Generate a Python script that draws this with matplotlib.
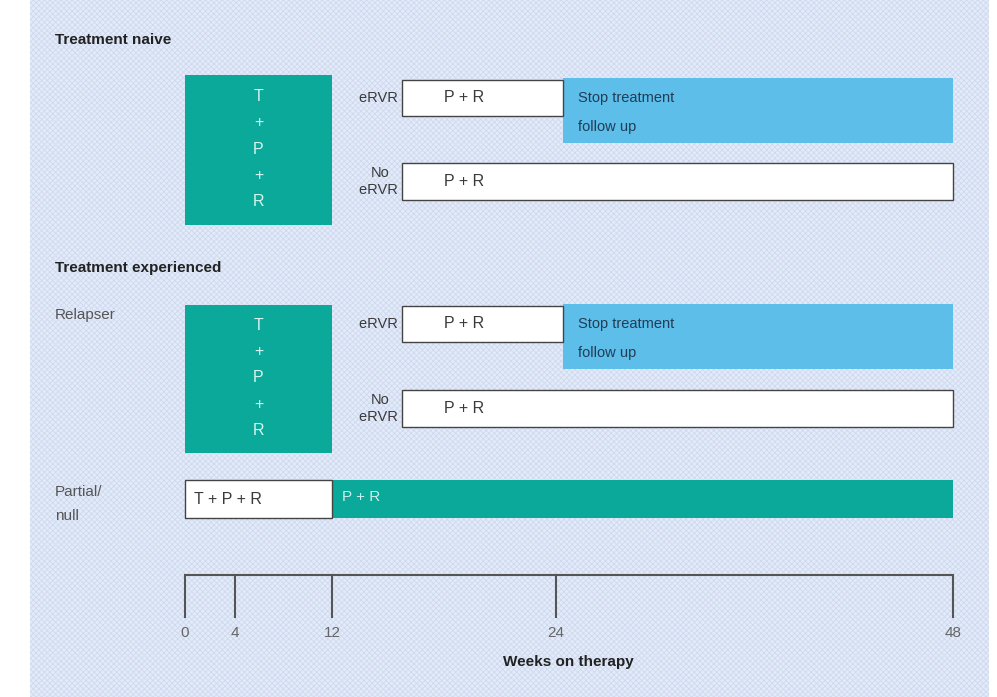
import matplotlib.pyplot as plt
import numpy as np
from matplotlib.patches import Rectangle

plt.rcParams['font.family'] = ['Liberation Sans', 'DejaVu Sans']
plt.rcParams['hatch.linewidth'] = 0.6

# week ticks on the schematic axis
week_ticks = [0, 4, 12, 24, 48]
tick_px = [185, 235, 332, 556, 953]   # where each tick sits on the (non-linear) schematic

# phases, in weeks
induction = (0, 12)          # T + P + R
ervr_pr = (15.75, 24.4)      # P + R after eRVR
ervr_stop = (24.4, 48)       # stop treatment / follow up
no_ervr_pr = (15.75, 48)     # P + R, no eRVR
partial_tpr = (0, 12)
partial_pr = (12, 48)

TEAL = '#0aa99a'
BLUE = '#5cbee9'
BG = '#e0edf8'
INK = '#3a3a3a'


def make_scale():
    kw = [-100] + week_ticks + [100]
    kp = [tick_px[0] - 100 * 12.5] + tick_px + [tick_px[-1] + 52 * 16.5]
    fwd = lambda w: np.interp(w, kw, kp)
    inv = lambda p: np.interp(p, kp, kw)
    return fwd, inv


fig = plt.figure(figsize=(9.97, 6.97), dpi=100)
ax = fig.add_axes([0, 0, 1, 1])
fwd, inv = make_scale()
ax.set_xscale('function', functions=(fwd, inv))
ax.set_xlim(inv(0), inv(997))
ax.set_ylim(697, 0)
ax.axis('off')

# textured panel
ax.add_patch(Rectangle((30 / 997, 0), 959 / 997, 1, transform=ax.transAxes,
                       facecolor=BG, edgecolor='#d3d6f0', hatch='xxxxxx', linewidth=0, zorder=0))


def span(lo_hi, y, h, color, edge='none'):
    lo, hi = lo_hi
    ax.barh(y, hi - lo, left=lo, height=h, color=color, edgecolor=edge,
            linewidth=1 if edge != 'none' else 0, zorder=2)


def block(y_top, y_bot, ervr_y, noervr_y):
    # induction block
    span(induction, (y_top + y_bot) / 2, y_bot - y_top, TEAL)
    xc = inv((fwd(induction[0]) + fwd(induction[1])) / 2)
    ax.text(xc, (y_top + y_bot) / 2 - 1, 'T\n+\nP\n+\nR', color='#d8f5ee', fontsize=11.5,
            ha='center', va='center', linespacing=1.95, zorder=3)
    # eRVR row
    span(ervr_stop, ervr_y + 12, 65, BLUE)
    span(ervr_pr, ervr_y, 36, 'white', edge='#444444')
    ax.text(ervr_pr[0], ervr_y, 'eRVR ', ha='right', va='center', fontsize=10.5, color=INK)
    ax.text(inv(fwd(ervr_pr[0]) + 42), ervr_y, 'P + R', va='center', fontsize=11.5, color=INK, zorder=3)
    ax.text(inv(fwd(ervr_stop[0]) + 15), ervr_y, 'Stop treatment', va='center', fontsize=10.5,
            color='#233c55', zorder=3)
    ax.text(inv(fwd(ervr_stop[0]) + 15), ervr_y + 29, 'follow up', va='center', fontsize=10.5,
            color='#233c55', zorder=3)
    # no eRVR row
    span(no_ervr_pr, noervr_y, 37, 'white', edge='#444444')
    ax.text(ervr_pr[0], noervr_y, 'No\neRVR ', ha='right', va='center', fontsize=10.5,
            color=INK, multialignment='center', linespacing=1.35)
    ax.text(inv(fwd(no_ervr_pr[0]) + 42), noervr_y, 'P + R', va='center', fontsize=11.5, color=INK, zorder=3)


xl = inv(55)
ax.text(xl, 40, 'Treatment naive', fontsize=11, fontweight='bold', color='#222222', va='center')
block(75, 225, 98, 181.5)

ax.text(xl, 268, 'Treatment experienced', fontsize=11, fontweight='bold', color='#222222', va='center')
ax.text(xl, 315, 'Relapser', fontsize=11, color='#555555', va='center')
block(305, 453, 324, 408.5)

ax.text(xl, 504, 'Partial/\nnull', fontsize=11, color='#555555', va='center', linespacing=1.85)
span(partial_pr, 499, 38, TEAL)
span(partial_tpr, 499, 38, 'white', edge='#444444')
ax.text(inv(fwd(partial_tpr[0]) + 9), 499, 'T + P + R', va='center', fontsize=11.5, color=INK, zorder=3)
ax.text(inv(fwd(partial_pr[0]) + 10), 497, 'P + R', va='center', fontsize=11, color='#c9f0e8', zorder=3)

# timeline axis
ax.plot([week_ticks[0], week_ticks[-1]], [575, 575], color='#555555', lw=1.5, zorder=2)
for w in week_ticks:
    ax.plot([w, w], [575, 617], color='#555555', lw=1.5, zorder=2)
    ax.text(w, 633, str(w), ha='center', va='center', fontsize=11, color='#666666')
ax.text(inv(568), 662, 'Weeks on therapy', ha='center', va='center', fontsize=11,
        fontweight='bold', color='#222222')

fig.savefig('out.png', dpi=100)
